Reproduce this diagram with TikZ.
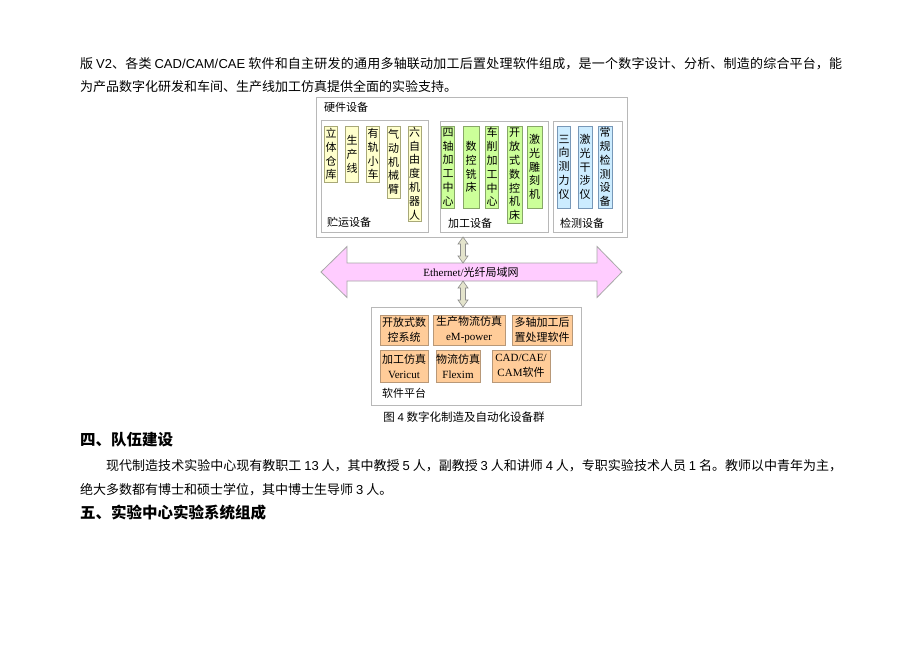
\documentclass[tikz,border=0pt]{standalone}
\usepackage{fontspec}
\setmainfont{Liberation Serif}
\newfontfamily\cjk{Noto Sans CJK SC}
\newfontfamily\lsans{Liberation Sans}
\newcommand\zhbreak{\XeTeXlinebreaklocale "zh"\XeTeXlinebreakskip=0pt plus 3pt minus 0.4pt\relax}
\definecolor{boxgray}{HTML}{B8B8B8}
\definecolor{yfill}{HTML}{FFFFCC}
\definecolor{yline}{HTML}{A8A878}
\definecolor{gfill}{HTML}{CCFF99}
\definecolor{gline}{HTML}{88A868}
\definecolor{bfill}{HTML}{CCECFF}
\definecolor{bline}{HTML}{7898B8}
\definecolor{ofill}{HTML}{FFCC99}
\definecolor{oline}{HTML}{B89878}
\definecolor{pfill}{HTML}{FFCCFF}
\definecolor{pline}{HTML}{A8A8A8}
\definecolor{afill}{HTML}{E4E4CC}
\definecolor{aline}{HTML}{8C8C8C}
\tikzset{
  frame/.style={draw=boxgray, line width=0.8pt, fill=white, anchor=north west, inner sep=0pt},
  vtext/.style={inner sep=0pt, align=center, line width=0.6pt, font=\cjk\fontsize{11}{13.8}\selectfont},
  ybox/.style={vtext, draw=yline, fill=yfill, minimum width=13pt},
  gbox/.style={vtext, draw=gline, fill=gfill, minimum width=13pt},
  bbox/.style={vtext, draw=bline, fill=bfill, minimum width=13pt},
  obox/.style={draw=oline, fill=ofill, line width=0.6pt, inner sep=0pt, align=center, font=\cjk\fontsize{11}{15}\selectfont},
  lbl/.style={inner sep=0pt, anchor=west, font=\cjk\fontsize{11}{13}\selectfont},
  netarrow/.style={draw=pline, fill=pfill, line width=0.8pt},
  linkarrow/.style={draw=aline, fill=afill, line width=0.6pt},
  bodyline/.style={inner sep=0pt, anchor=base west, font=\cjk\fontsize{13}{16}\selectfont},
  bodyjust/.style={bodyline, align=justify, font=\cjk\fontsize{13}{16}\selectfont\zhbreak},
  heading/.style={inner sep=0pt, anchor=base west, font=\cjk\bfseries\fontsize{15.5}{18}\selectfont},
}
\newcommand\vdarrow[3]{%
  \draw[linkarrow] (#1,#2) -- (#1+5,#2+7) -- (#1+2.5,#2+7) -- (#1+2.5,#3-7) -- (#1+5,#3-7) -- (#1,#3)
    -- (#1-5,#3-7) -- (#1-2.5,#3-7) -- (#1-2.5,#2+7) -- (#1-5,#2+7) -- cycle;}
\begin{document}
\begin{tikzpicture}[x=1pt,y=-1pt]
\useasboundingbox[fill=white] (0,0) rectangle (920,651);

% body text above
\node[bodyjust, text width=762pt] (p1a) at (80,68) {\parfillskip=0pt 版 {\lsans V2}、各类 {\lsans CAD/CAM/CAE} 软件和自主研发的通用多轴联动加工后置处理软件组成，是一个数字设计、分析、制造的综合平台，能\par};
\node[bodyline] (p1b) at (80,91) {为产品数字化研发和车间、生产线加工仿真提供全面的实验支持。};

% hardware frame
\node[frame, minimum width=311pt, minimum height=140pt] (hw) at (316,97) {};
\node[lbl] (hwl) at (324,107) {硬件设备};
\node[frame, minimum width=107pt, minimum height=112pt] (store) at (321,120) {};
\node[frame, minimum width=108pt, minimum height=111pt] (mach) at (440,121) {};
\node[frame, minimum width=69pt, minimum height=111pt] (meas) at (553,121) {};
\node[lbl] (storel) at (327,222) {贮运设备};
\node[lbl] (machl) at (448,223) {加工设备};
\node[lbl] (measl) at (560,223) {检测设备};

% storage items
\node[ybox, minimum height=56pt] (y1) at (331,154) {立\\体\\仓\\库};
\node[ybox, minimum height=56pt] (y2) at (352,154) {生\\产\\线};
\node[ybox, minimum height=56pt] (y3) at (373,154) {有\\轨\\小\\车};
\node[ybox, minimum height=72pt] (y4) at (393.5,162) {气\\动\\机\\械\\臂};
\node[ybox, minimum height=95pt] (y5) at (414.5,173.5) {六\\自\\由\\度\\机\\器\\人};

% machining items
\node[gbox, minimum height=82pt] (g1) at (448,167) {四\\轴\\加\\工\\中\\心};
\node[gbox, minimum height=82pt, minimum width=16pt] (g2) at (471,167) {数\\控\\铣\\床};
\node[gbox, minimum height=82pt] (g3) at (492,167) {车\\削\\加\\工\\中\\心};
\node[gbox, minimum height=97pt, minimum width=15pt] (g4) at (514.5,174.5) {开\\放\\式\\数\\控\\机\\床};
\node[gbox, minimum height=82pt, minimum width=15pt] (g5) at (534.5,167) {激\\光\\雕\\刻\\机};

% measuring items
\node[bbox, minimum height=82pt] (b1) at (564,167) {三\\向\\测\\力\\仪};
\node[bbox, minimum height=82pt, minimum width=14pt] (b2) at (585,167) {激\\光\\干\\涉\\仪};
\node[bbox, minimum height=82pt, minimum width=14pt] (b3) at (605,167) {常\\规\\检\\测\\设\\备};

% network arrow
\path[netarrow] (321,272) -- (347,246.5) -- (347,263) -- (597,263) -- (597,246.5) -- (622,272)
  -- (597,297.5) -- (597,281) -- (347,281) -- (347,297.5) -- cycle;
\node[inner sep=0pt, font=\fontsize{11}{13}\selectfont] (eth) at (471,272) {Ethernet/{\cjk 光纤局域网}};

% software frame
\node[frame, minimum width=210pt, minimum height=98pt] (sw) at (371,307) {};
\node[lbl] (swl) at (382,393) {软件平台};
\node[obox, minimum width=48pt, minimum height=30pt] (o1) at (404,330) {开放式数\\控系统};
\node[obox, minimum width=72pt, minimum height=30pt] (o2) at (469,330) {生产物流仿真\\{\rmfamily eM-power}};
\node[obox, minimum width=60pt, minimum height=30pt] (o3) at (542,330) {多轴加工后\\置处理软件};
\node[obox, minimum width=48pt, minimum height=32pt] (o4) at (404,366) {加工仿真\\{\rmfamily Vericut}};
\node[obox, minimum width=44pt, minimum height=32pt] (o5) at (458,366) {物流仿真\\{\rmfamily Flexim}};
\node[obox, minimum width=58pt, minimum height=32pt] (o6) at (521,366) {{\rmfamily CAD/CAE/}\\{\rmfamily CAM}软件};

% link arrows
\coordinate (hwS) at (463,237);
\coordinate (ethT) at (463,263);
\coordinate (ethB) at (463,281);
\coordinate (swN) at (463,307);
\vdarrow{463}{237}{263}
\vdarrow{463}{281}{307}

% caption
\node[inner sep=0pt, font=\cjk\fontsize{11.5}{13}\selectfont] (cap) at (464,417) {图 {\lsans 4} 数字化制造及自动化设备群};

% text below
\node[heading] (h4) at (80,445) {四、队伍建设};
\node[bodyjust, text width=736pt] (p2a) at (106,470) {\parfillskip=0pt 现代制造技术实验中心现有教职工 {\lsans 13} 人，其中教授 {\lsans 5} 人，副教授 {\lsans 3} 人和讲师 {\lsans 4} 人，专职实验技术人员 {\lsans 1} 名。教师以中青年为主，\par};
\node[bodyline] (p2b) at (80,494) {绝大多数都有博士和硕士学位，其中博士生导师 {\lsans 3} 人。};
\node[heading] (h5) at (80,518) {五、实验中心实验系统组成};
\end{tikzpicture}
\end{document}
